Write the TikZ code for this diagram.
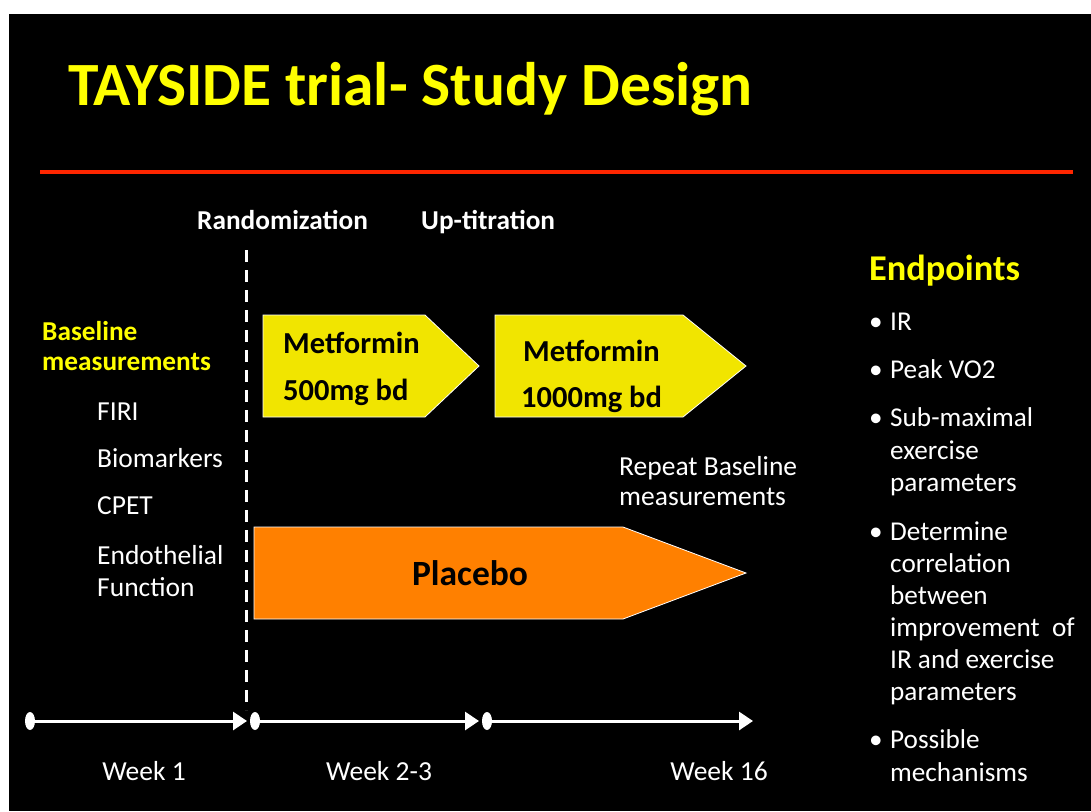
\documentclass[tikz,border=0pt]{standalone}
\usepackage{fontspec}
\setmainfont{Carlito}
\usetikzlibrary{arrows.meta,shapes.geometric}
\definecolor{ttl}{RGB}{255,255,0}
\definecolor{metf}{RGB}{241,229,0}
\definecolor{plac}{RGB}{255,128,0}
\definecolor{redl}{RGB}{255,38,0}
\tikzset{
  txt/.style={text=white, font=\fontsize{27.5}{32}\selectfont, anchor=base west, inner sep=0pt},
  btxt/.style={txt, font=\bfseries\fontsize{27.3}{32}\selectfont},
  ybtxt/.style={btxt, text=ttl},
  boxtxt/.style={txt, text=black, font=\bfseries\fontsize{30.5}{34}\selectfont},
  ltxt/.style={txt, font=\fontsize{27.2}{32}\selectfont},
  wktxt/.style={txt, anchor=base},
  dot/.style={ellipse, fill=white, minimum width=10pt, minimum height=18pt, inner sep=0pt},
  tl/.style={draw=white, line width=3pt, -{Triangle[length=14pt,width=18pt]}},
  shaft/.style={draw=white, line width=0.8pt},
}
\begin{document}
\begin{tikzpicture}[x=1pt,y=-1pt]
\useasboundingbox (0,0) rectangle (1091,811);
\fill[white] (0,0) rectangle (1091,811);
\fill[black] (9,14) rectangle (1091,811);
% title
\node[txt, text=ttl, font=\bfseries\fontsize{61.5}{66}\selectfont] (title) at (68,105) {TAYSIDE trial- Study Design};
\draw[redl, line width=4pt] (40,172) -- (1073,172);
% phase labels
\node[btxt] (rand) at (197,229) {Randomization};
\node[btxt] (up) at (421,229) {Up-titration};
\draw[white, line width=3pt, dash pattern=on 12pt off 8pt] (246,250) -- (246,710);
% baseline column
\node[ybtxt] (bl1) at (42,340) {Baseline};
\node[ybtxt] (bl2) at (42,370) {measurements};
\node[txt] (firi) at (97,420) {FIRI};
\node[txt] (bio) at (97,467) {Biomarkers};
\node[txt] (cpet) at (97,514) {CPET};
\node[txt] (endo1) at (97,564) {Endothelial};
\node[txt] (endo2) at (97,596) {Function};
% metformin arrows
\filldraw[fill=metf, shaft] (263,315) -- (425,315) -- (479,366) -- (425,417) -- (263,417) -- cycle;
\node[boxtxt] (m1a) at (283,353) {Metformin};
\node[boxtxt] (m1b) at (283,400) {500mg bd};
\filldraw[fill=metf, shaft] (495,315) -- (683,315) -- (746,366) -- (683,417) -- (495,417) -- cycle;
\node[boxtxt] (m2a) at (523,361) {Metformin};
\node[boxtxt] (m2b) at (521,407) {1000mg bd};
% placebo
\filldraw[fill=plac, shaft] (254,527) -- (623,527) -- (746,573) -- (623,619) -- (254,619) -- cycle;
\node[boxtxt, anchor=base, font=\bfseries\fontsize{35.5}{38}\selectfont] (plc) at (470,585) {Placebo};
% repeat
\node[txt] (rep1) at (619,475) {Repeat Baseline};
\node[txt] (rep2) at (619,505) {measurements};
% endpoints
\node[ybtxt, font=\bfseries\fontsize{36.3}{40}\selectfont] (ep) at (869,280) {Endpoints};
\foreach \y/\t [count=\i] in {330/IR, 378/Peak VO2, 426/Sub-maximal, 540/Determine, 748/Possible}{
  \node[ltxt] (b\i) at (869,\y) {•};
  \node[ltxt] (e\i) at (890,\y) {\t};
}
\node[ltxt] (e3b) at (890,459) {exercise};
\node[ltxt] (e3c) at (890,491) {parameters};
\node[ltxt] (e4b) at (890,572) {correlation};
\node[ltxt] (e4c) at (890,604) {between};
\node[ltxt] (e4d) at (890,636) {improvement\ \ of};
\node[ltxt] (e4e) at (890,668) {IR and exercise};
\node[ltxt] (e4f) at (890,700) {parameters};
\node[ltxt] (e5b) at (890,781) {mechanisms};
% timeline
\node[dot] (t1) at (30,721) {};
\node[dot] (t2) at (255,721) {};
\node[dot] (t3) at (487,721) {};
\coordinate (a1) at (247,721);
\coordinate (a2) at (479,721);
\coordinate (a3) at (753,721);
\draw[tl] (t1) -- (a1);
\draw[tl] (t2) -- (a2);
\draw[tl] (t3) -- (a3);
\node[wktxt] (w1) at (144,780) {Week 1};
\node[wktxt] (w2) at (379,780) {Week 2-3};
\node[wktxt] (w3) at (719,780) {Week 16};
\end{tikzpicture}
\end{document}
